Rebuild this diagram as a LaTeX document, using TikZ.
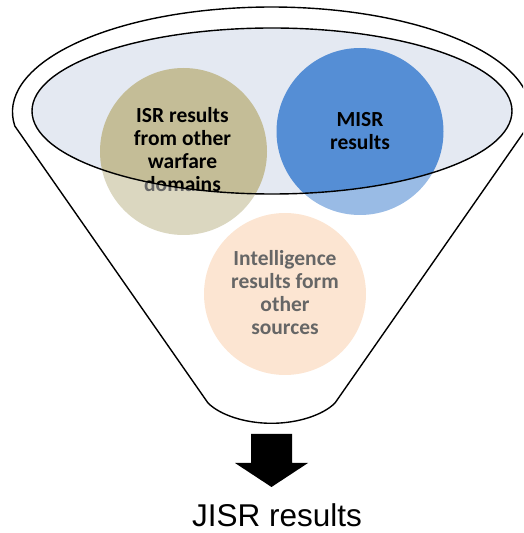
\documentclass[tikz,border=0pt]{standalone}
\usepackage{fontspec}
\setmainfont{Carlito}
\newfontfamily\captionfont{Liberation Sans}
\definecolor{tanfill}{HTML}{C4BD97}
\definecolor{bluefill}{HTML}{558ED5}
\definecolor{peachfill}{HTML}{FBD5B5}
\definecolor{bowlfill}{HTML}{E4E9F2}
\begin{document}
\begin{tikzpicture}[x=1pt,y=1pt,
  outline/.style={draw=black, line width=1.4pt},
  source/.style={circle, minimum size=167pt, inner sep=0pt},
  sourcetext/.style={align=center, font=\fontsize{21.5}{23.2}\selectfont\bfseries, text=black, inner sep=0pt, anchor=base},
]
\clip (0,0) rectangle (523,533);

% bowl of the funnel
\fill[bowlfill] (272,422) ellipse [x radius=240, y radius=83];

% the three sources
\node[source, fill=tanfill] (isr) at (183.5,381.5) {};
\node[source, fill=bluefill] (misr) at (360,401.5) {};
\node[source, fill=peachfill, minimum size=162pt] (intel) at (285,239) {};

% labels, placed by the baseline of their last line
\node[sourcetext] (isrtxt) at (182.5,341.3) {ISR results\\from other\\warfare\\domains};
\node[sourcetext] (misrtxt) at (360,383) {MISR\\results};
\node[sourcetext] (inteltxt) at (285,198) {Intelligence\\results form\\other\\sources};

% everything outside the bowl is faded
\fill[white, opacity=0.4, even odd rule] (0,0) rectangle (523,533)
  (272,422) ellipse [x radius=240, y radius=83];

% funnel outline
\draw[outline] (14.8,407) arc [start angle=187.66, end angle=-7.66, x radius=259, y radius=105]
  -- (335,130) .. controls (323,118) and (298,109.7) .. (271.5,109.7)
  .. controls (245,109.7) and (220,118) .. (208,130) -- cycle;
\draw[outline] (272,422) ellipse [x radius=240, y radius=83];

% output arrow
\coordinate (tip) at (271.5,46);
\fill[black] (251,99) -- (292,99) -- (292,70) -- (308,70) -- (tip) -- (235,70) -- (251,70) -- cycle;

\node[font=\captionfont\fontsize{31.5}{36}\selectfont, anchor=base, inner sep=0pt] (result) at (277,6.3) {JISR results};
\end{tikzpicture}
\end{document}
